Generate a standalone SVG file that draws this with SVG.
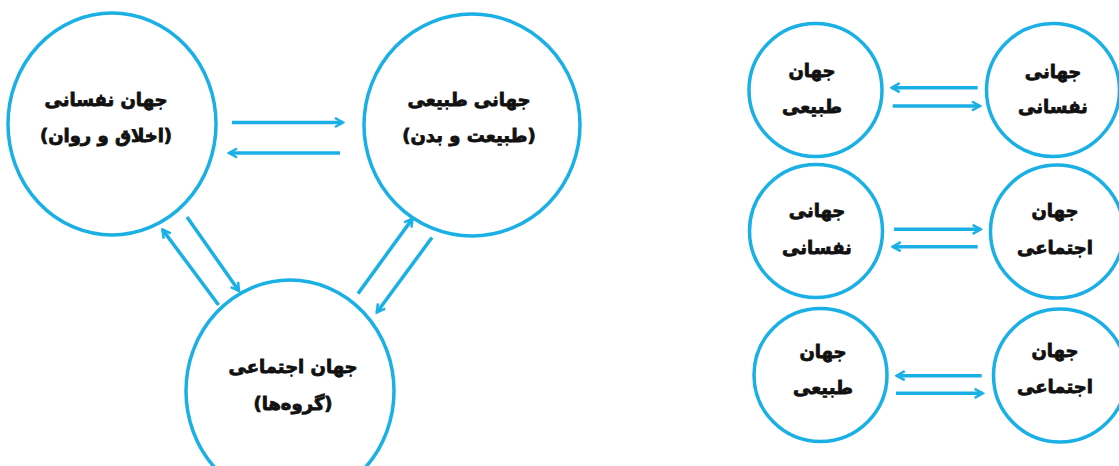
<svg xmlns="http://www.w3.org/2000/svg" width="1119" height="466" viewBox="0 0 1119 466">
<style>
.c{fill:none;stroke:#1ab0e6;stroke-width:3.5}
.a{fill:none;stroke:#1ab0e6;stroke-width:3.5;marker-end:url(#ah)}
.t{font-family:"DejaVu Sans",sans-serif;font-weight:bold;font-size:18px;fill:#111;stroke:#111;stroke-width:0.8;text-anchor:middle;direction:rtl}
</style>
<defs>
<marker id="ah" viewBox="0 0 12 12" refX="10" refY="6" markerWidth="12" markerHeight="12" markerUnits="userSpaceOnUse" orient="auto">
<path d="M2,1.5 L10,6 L2,10.5" fill="none" stroke="#1ab0e6" stroke-width="2.5"/>
</marker>
</defs>
<rect width="1119" height="466" fill="#fff"/>
<g id="n-nafsani">
<ellipse class="c" cx="112" cy="124" rx="104" ry="111"/>
<text class="t" x="106" y="106">جهان نفسانی</text>
<text class="t" x="106" y="142">(اخلاق و روان)</text>
</g>
<g id="n-tabiei">
<ellipse class="c" cx="472" cy="125" rx="108" ry="111"/>
<text class="t" x="469" y="106">جهانی طبیعی</text>
<text class="t" x="469" y="142">(طبیعت و بدن)</text>
</g>
<g id="n-ejtemaei">
<ellipse class="c" cx="290" cy="391" rx="104" ry="111"/>
<text class="t" x="293" y="373">جهان اجتماعی</text>
<text class="t" x="293" y="410">(گروه‌ها)</text>
</g>
<g id="r1-left"><circle class="c" cx="815.5" cy="90" r="66.5"/>
<text class="t" x="812" y="77">جهان</text><text class="t" x="812" y="113">طبیعی</text></g>
<g id="r1-right"><circle class="c" cx="1053" cy="90" r="66.5"/>
<text class="t" x="1053" y="78">جهانی</text><text class="t" x="1053" y="113">نفسانی</text></g>
<g id="r2-left"><circle class="c" cx="816" cy="231" r="66.5"/>
<text class="t" x="817" y="217">جهانی</text><text class="t" x="817" y="254">نفسانی</text></g>
<g id="r2-right"><circle class="c" cx="1057" cy="231.5" r="66.5"/>
<text class="t" x="1055" y="217">جهان</text><text class="t" x="1055" y="254">اجتماعی</text></g>
<g id="r3-left"><circle class="c" cx="820.5" cy="375" r="66.5"/>
<text class="t" x="823" y="358">جهان</text><text class="t" x="823" y="394">طبیعی</text></g>
<g id="r3-right"><circle class="c" cx="1060" cy="375.5" r="66.5"/>
<text class="t" x="1055" y="357">جهان</text><text class="t" x="1055" y="393">اجتماعی</text></g>
<g id="connectors">
<line class="a" x1="232" y1="122.5" x2="343" y2="122.5"/>
<line class="a" x1="340" y1="153" x2="229" y2="153"/>
<line class="a" x1="187" y1="217" x2="239" y2="291"/>
<line class="a" x1="218.6" y1="305" x2="162.5" y2="229.6"/>
<line class="a" x1="358" y1="293.6" x2="412.5" y2="218.6"/>
<line class="a" x1="432" y1="237.5" x2="376.8" y2="312.5"/>
<line class="a" x1="977.7" y1="87.7" x2="891.7" y2="87.7"/>
<line class="a" x1="892.7" y1="106" x2="980" y2="106"/>
<line class="a" x1="894" y1="229.3" x2="980.7" y2="229.3"/>
<line class="a" x1="977.7" y1="246.7" x2="892.7" y2="246.7"/>
<line class="a" x1="981.7" y1="375.7" x2="896.7" y2="375.7"/>
<line class="a" x1="896" y1="393.3" x2="982.7" y2="393.3"/>
</g>
</svg>
